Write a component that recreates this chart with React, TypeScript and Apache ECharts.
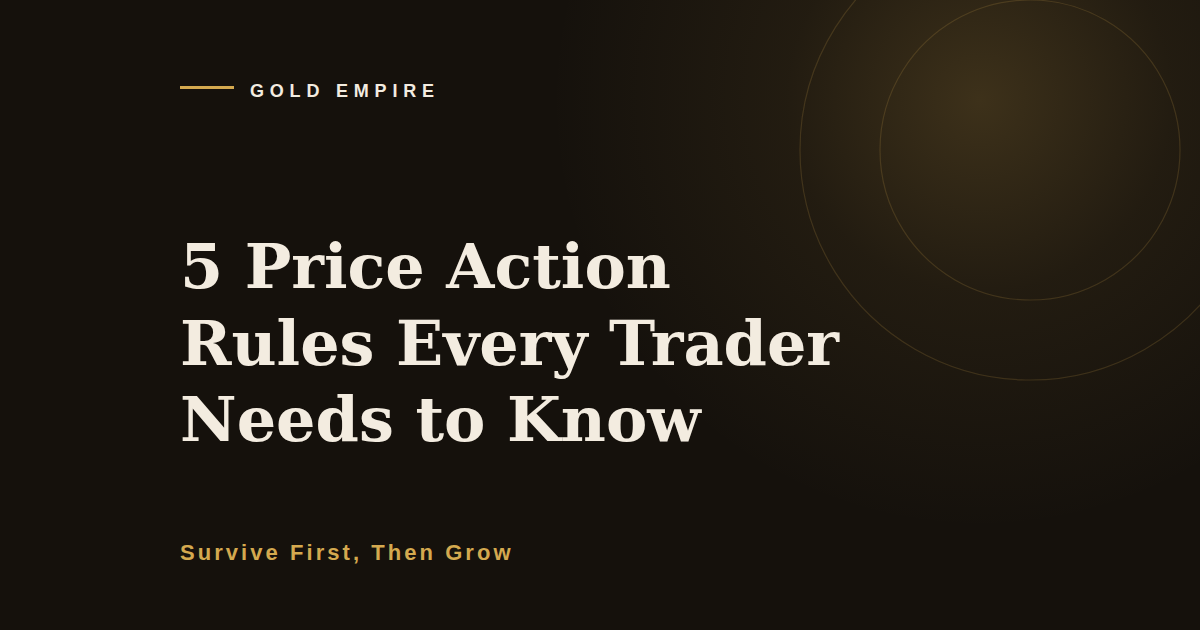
import { useEffect, useRef } from 'react';
import * as echarts from 'echarts';

const BRAND = 'GOLD EMPIRE';
const TITLE_LINES = ['5 Price Action', 'Rules Every Trader', 'Needs to Know'];
const SUBTITLE = 'Survive First, Then Grow';

const BG = '#15110c';
const GOLD = '#d4a94f';
const CREAM = '#f3ece0';
const SANS = '"Liberation Sans", Arial, sans-serif';
const SERIF = '"DejaVu Serif", serif';

// 画布测量文字宽度，用于手动加字距
const measure = (text: string, font: string) => {
  const ctx = document.createElement('canvas').getContext('2d')!;
  ctx.font = font;
  return ctx.measureText(text).width;
};

const spacedText = (text: string, x: number, y: number, size: number, spacing: number, fill: string) => {
  const font = `bold ${size}px ${SANS}`;
  const out: any[] = [];
  let cx = x;
  for (const ch of text) {
    out.push({
      type: 'text',
      x: cx,
      y,
      style: { text: ch, fill, font, align: 'left', verticalAlign: 'middle' },
    });
    cx += measure(ch, font) + spacing;
  }
  return out;
};

export default function App() {
  const ref = useRef<HTMLDivElement | null>(null);

  useEffect(() => {
    document.body.style.margin = '0';
    if (!ref.current) return undefined;
    const chart = echarts.init(ref.current, undefined, { renderer: 'svg' });

    const elements: any[] = [
      { type: 'rect', shape: { x: 0, y: 0, width: 1200, height: 630 }, style: { fill: BG } },
      {
        type: 'circle',
        shape: { cx: 980, cy: 100, r: 430 },
        style: {
          fill: new echarts.graphic.RadialGradient(0.5, 0.5, 0.5, [
            { offset: 0, color: 'rgba(212,169,79,0.21)' },
            { offset: 0.45, color: 'rgba(212,169,79,0.07)' },
            { offset: 1, color: 'rgba(212,169,79,0)' },
          ]),
        },
      },
      {
        type: 'circle',
        shape: { cx: 1030, cy: 150, r: 230 },
        style: { fill: 'none', stroke: 'rgba(212,169,79,0.18)', lineWidth: 1.2 },
      },
      {
        type: 'circle',
        shape: { cx: 1030, cy: 150, r: 150 },
        style: { fill: 'none', stroke: 'rgba(212,169,79,0.18)', lineWidth: 1.2 },
      },
      { type: 'rect', shape: { x: 180, y: 86, width: 54, height: 3 }, style: { fill: GOLD } },
      ...spacedText(BRAND, 250, 91, 18, 5.8, CREAM),
      ...TITLE_LINES.map((line, i) => ({
        type: 'text',
        x: 180,
        y: 266.5 + i * 76.5,
        style: {
          text: line,
          fill: CREAM,
          font: `bold 62px ${SERIF}`,
          align: 'left',
          verticalAlign: 'middle',
        },
      })),
      ...spacedText(SUBTITLE, 180, 552, 22, 3.05, GOLD),
    ];

    chart.setOption({ animation: false, graphic: { elements } });

    return () => chart.dispose();
  }, []);

  return <div ref={ref} style={{ width: 1200, height: 630 }} />;
}
